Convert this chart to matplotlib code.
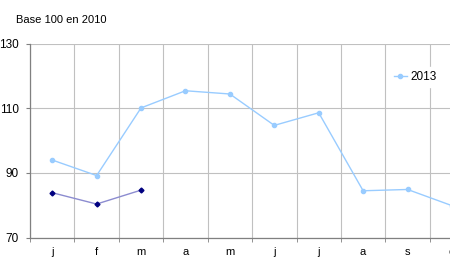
import matplotlib
matplotlib.use('Agg')
import matplotlib.pyplot as plt

plt.rcParams['font.family'] = ['Liberation Sans', 'DejaVu Sans']

months = ['j', 'f', 'm', 'a', 'm', 'j', 'j', 'a', 's', 'o', 'n', 'd']
vals_2013 = [94.0, 89.2, 110.1, 115.4, 114.4, 104.7, 108.6, 84.5, 84.9, 79.9]
vals_2014 = [83.9, 80.4, 84.7]
yticks = [70, 90, 110, 130]

fig = plt.figure(figsize=(4.5, 2.8), dpi=100)
# axes runs past the right edge, the picture is cut like the original
ax = fig.add_axes([30 / 450, 42.3 / 280, 533 / 450, 194.2 / 280])

ax.plot(range(len(vals_2013)), vals_2013, color='#99ccff', lw=1.0,
        marker='o', ms=3, mfc='#99ccff', mec='#99ccff', label='2013')
ax.plot(range(len(vals_2014)), vals_2014, color='#8c8cd0', lw=1.0,
        marker='D', ms=2.5, mfc='#000080', mec='#000080', label='2014')

ax.set_xlim(-0.5, len(months) - 0.5)
ax.set_ylim(70, 130)
ax.set_yticks(yticks)
ax.set_yticklabels([str(v) for v in yticks], fontsize=8.5)
ax.set_xticks(range(len(months)))
ax.set_xticklabels(months, fontsize=8)
ax.set_xticks([i + 0.5 for i in range(-1, len(months))], minor=True)
ax.tick_params(axis='x', which='major', length=0, pad=7)
ax.tick_params(axis='x', which='minor', length=3, color='#808080')
ax.tick_params(axis='y', length=3, color='#808080', pad=5)

ax.grid(True, axis='y', color='#c0c0c0', lw=0.8)
ax.grid(True, axis='x', which='minor', color='#c0c0c0', lw=0.8)
for s in ['top', 'right']:
    ax.spines[s].set_visible(False)
for s in ['left', 'bottom']:
    ax.spines[s].set_color('#808080')
    ax.spines[s].set_linewidth(0.9)
ax.set_axisbelow(True)

fig.text(16 / 450, 1 - 20 / 280, 'Base 100 en 2010', fontsize=8, va='center')

fig.legend(loc='center left', bbox_to_anchor=(390 / 450, 1 - 77 / 280), ncol=2,
           frameon=True, facecolor='white', edgecolor='white', framealpha=1,
           fontsize=8.5, handlelength=1.1, handletextpad=0.3, columnspacing=1.3,
           borderpad=0.3, borderaxespad=0)

fig.savefig('out.png', dpi=100)
